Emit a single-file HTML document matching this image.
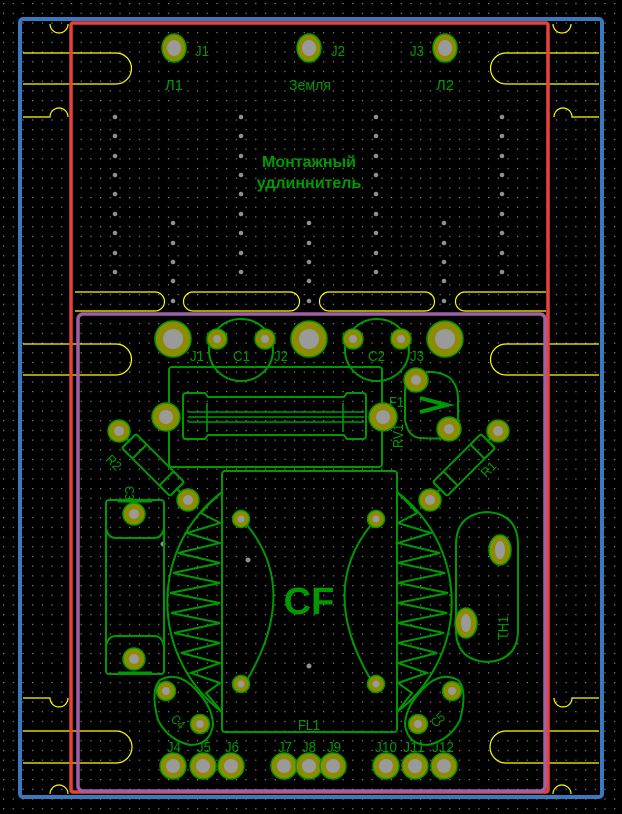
<!DOCTYPE html>
<html><head><meta charset="utf-8"><style>
html,body{margin:0;padding:0;background:#000;width:622px;height:814px;overflow:hidden}
svg{display:block}
text{font-family:"Liberation Sans","DejaVu Sans",sans-serif}
</style></head><body>
<svg width="622" height="814" viewBox="0 0 622 814" xmlns="http://www.w3.org/2000/svg">
<defs>
<pattern id="g" x="3" y="3" width="9.7" height="9.7" patternUnits="userSpaceOnUse">
<rect x="0" y="0" width="1.2" height="1.2" fill="#8a8a8a"/>
</pattern>
<g id="col" fill="#909090">
<circle cx="0" cy="117" r="2.3"/><circle cx="0" cy="136" r="2.3"/><circle cx="0" cy="156" r="2.3"/><circle cx="0" cy="175" r="2.3"/><circle cx="0" cy="194" r="2.3"/><circle cx="0" cy="214" r="2.3"/><circle cx="0" cy="233" r="2.3"/><circle cx="0" cy="253" r="2.3"/><circle cx="0" cy="272" r="2.3"/>
</g>
<g id="col2" fill="#909090">
<circle cx="0" cy="223" r="2.3"/><circle cx="0" cy="243" r="2.3"/><circle cx="0" cy="262" r="2.3"/><circle cx="0" cy="281" r="2.3"/><circle cx="0" cy="301" r="2.3"/>
</g>
</defs>
<rect width="622" height="814" fill="#000"/>
<rect width="622" height="814" fill="url(#g)"/>

<!-- yellow edge cuts -->
<g fill="none" stroke="#ffff00" stroke-width="1.2">
<path d="M23,53 H116 A15.5,15.5 0 0 1 116,84 H23"/>
<path d="M599,53 H506 A15.5,15.5 0 0 0 506,84 H599"/>
<path d="M50,24 A9,9 0 0 0 68,24"/>
<path d="M553,24 A9,9 0 0 0 571,24"/>
<path d="M23,117 H50 A9,9 0 0 1 68,117"/>
<path d="M599,117 H572 A9,9 0 0 0 554,117"/>
<path d="M75,292 H155 A9.5,9.5 0 0 1 155,311 H75"/>
<path d="M193,292 H290 A9.5,9.5 0 0 1 290,311 H193 A9.5,9.5 0 0 1 193,292"/>
<path d="M329,292 H425 A9.5,9.5 0 0 1 425,311 H329 A9.5,9.5 0 0 1 329,292"/>
<path d="M546,292 H465 A9.5,9.5 0 0 0 465,311 H546"/>
<path d="M23,344 H116 A15.5,15.5 0 0 1 116,375 H23"/>
<path d="M599,344 H506 A15.5,15.5 0 0 0 506,375 H599"/>
<path d="M23,698 H50 A9,9 0 0 0 68,698"/>
<path d="M599,698 H572 A9,9 0 0 1 554,698"/>
<path d="M23,731 H116 A15.5,15.5 0 0 1 116,763 H23"/>
<path d="M599,731 H506 A15.5,15.5 0 0 0 506,763 H599"/>
<path d="M50,794 A9,9 0 0 1 68,794"/>
<path d="M553,794 A9,9 0 0 1 571,794"/>
</g>

<!-- outlines -->
<rect x="20" y="19" width="582" height="778" rx="3" fill="none" stroke="#3c78c0" stroke-width="4"/>
<rect x="71" y="23" width="477" height="769" rx="2" fill="none" stroke="#e8403a" stroke-width="3.5"/>
<rect x="78" y="314" width="467" height="477" rx="5" fill="none" stroke="#a060a8" stroke-width="3.5"/>

<!-- grey vias -->
<use href="#col" x="115"/><use href="#col" x="241"/><use href="#col" x="376"/><use href="#col" x="502"/>
<use href="#col2" x="173"/><use href="#col2" x="309"/><use href="#col2" x="444"/>
<g fill="#909090">
<circle cx="248" cy="560" r="2.5"/><circle cx="309" cy="666" r="2.5"/><circle cx="163" cy="544" r="2.5"/>
</g>

<!-- green silkscreen -->
<g fill="none" stroke="#009a00" stroke-width="2">
<ellipse cx="241" cy="350" rx="32" ry="31"/>
<ellipse cx="377" cy="350" rx="32" ry="31"/>
<rect x="169" y="367" width="213" height="100" rx="3"/>
<path d="M186,393 H205 L208,397 H344 L347,393 H363 Q366,393 366,397 V435 Q366,439 363,439 H347 L344,435 H208 L205,439 H186 Q183,439 183,435 V397 Q183,393 186,393 Z"/>
<path d="M188,412 H364 M188,417 H364 M188,422 H364 M207,403 V432 M343,403 V432" stroke-width="1.6"/>
<path d="M426,372 Q440,371 450,378 Q458,386 458,398 V418 Q458,430 448,438 Q435,439 420,438 Q408,437 405,420 V392 Q405,380 412,376"/>
<path d="M420,398 L447,405 L420,412" stroke-width="4"/>
<g transform="translate(153,465) rotate(45)">
<rect x="-34" y="-10" width="68" height="20" rx="2"/>
<rect x="-34" y="-10" width="15" height="20" rx="2"/>
<rect x="19" y="-10" width="15" height="20" rx="2"/>
</g>
<line x1="119" y1="431" x2="130" y2="442"/><line x1="176" y1="488" x2="188" y2="500"/>
<g transform="translate(464,465) rotate(-45)">
<rect x="-34" y="-10" width="68" height="20" rx="2"/>
<rect x="-34" y="-10" width="15" height="20" rx="2"/>
<rect x="19" y="-10" width="15" height="20" rx="2"/>
</g>
<line x1="498" y1="431" x2="487" y2="442"/><line x1="441" y1="488" x2="430" y2="500"/>
<rect x="106" y="500" width="58" height="174" rx="3"/>
<path d="M106,528 Q108,538 116,538 H154 Q162,538 164,528"/>
<path d="M106,646 Q108,636 116,636 H154 Q162,636 164,646"/>
<path d="M118,501 H152 M118,673 H152" stroke-width="3"/>
<rect x="222" y="471" width="175" height="261" rx="3"/>
<polyline points="222,492 210,503 201,513 220,523 187,533 220,543 178,553 220,563 173,573 220,583 170,593 220,603 171,613 220,623 174,633 220,643 181,653 220,663 191,673 220,683 206,693 222,712"/>
<path d="M222,492 A138,138 0 0 0 222,712"/>
<polyline points="397,492 408,503 417,513 398,523 431,533 398,543 440,553 398,563 445,573 398,583 448,593 398,603 447,613 398,623 444,633 398,643 437,653 398,663 427,673 398,683 412,693 397,712"/>
<path d="M397,492 A138,138 0 0 1 397,712"/>
<path d="M247,525 Q300,590 247,680"/>
<path d="M371,525 Q318,590 371,680"/>
<path d="M456,545 Q456,514 487,512 Q518,514 518,545 V630 Q518,660 487,662 Q456,660 456,630 Z"/>
<path d="M160,680 Q175,672 190,684 Q213,705 213,725 Q210,745 190,745 Q168,740 158,720 Q150,690 160,680 Z"/>
<path d="M458,680 Q443,672 428,684 Q405,705 405,725 Q408,745 428,745 Q450,740 460,720 Q468,690 458,680 Z"/>
</g>

<!-- pads -->
<g>
<g fill="#8c8c00" stroke="#009a00" stroke-width="1.5">
<ellipse cx="174" cy="48" rx="12" ry="14"/><ellipse cx="309" cy="48" rx="12" ry="14"/><ellipse cx="445" cy="48" rx="12" ry="14"/>
<circle cx="173" cy="339" r="18"/><circle cx="309" cy="339" r="18"/><circle cx="445" cy="339" r="18"/>
<circle cx="217" cy="339" r="10"/><circle cx="265" cy="339" r="10"/><circle cx="353" cy="339" r="10"/><circle cx="401" cy="339" r="10"/>
<circle cx="416" cy="380" r="12"/><circle cx="449" cy="429" r="12"/>
<circle cx="166" cy="417" r="14"/><circle cx="383" cy="417" r="14"/>
<circle cx="119" cy="431" r="11"/><circle cx="188" cy="500" r="11"/>
<circle cx="498" cy="431" r="11"/><circle cx="430" cy="500" r="11"/>
<circle cx="134" cy="514" r="11"/><circle cx="134" cy="659" r="11"/>
<circle cx="241" cy="519" r="8.5"/><circle cx="376" cy="519" r="8.5"/><circle cx="241" cy="684" r="8.5"/><circle cx="376" cy="684" r="8.5"/>
<ellipse cx="500" cy="550" rx="11" ry="15"/><ellipse cx="466" cy="623" rx="11" ry="15"/>
<circle cx="166" cy="691" r="9.5"/><circle cx="200" cy="724" r="9.5"/>
<circle cx="452" cy="691" r="9.5"/><circle cx="418" cy="724" r="9.5"/>
<circle cx="173" cy="766" r="13"/><circle cx="203" cy="766" r="13"/><circle cx="231" cy="766" r="13"/>
<circle cx="284" cy="766" r="13"/><circle cx="309" cy="766" r="13"/><circle cx="333" cy="766" r="13"/>
<circle cx="386" cy="766" r="13"/><circle cx="415" cy="766" r="13"/><circle cx="444" cy="766" r="13"/>
</g>
<g fill="#9a9a9a">
<ellipse cx="174" cy="48" rx="7" ry="8"/><ellipse cx="309" cy="48" rx="7" ry="8"/><ellipse cx="445" cy="48" rx="7" ry="8"/>
<circle cx="173" cy="339" r="10"/><circle cx="309" cy="339" r="10"/><circle cx="445" cy="339" r="10"/>
<circle cx="217" cy="339" r="4"/><circle cx="265" cy="339" r="4"/><circle cx="353" cy="339" r="4"/><circle cx="401" cy="339" r="4"/>
<circle cx="416" cy="380" r="5"/><circle cx="449" cy="429" r="5"/>
<circle cx="166" cy="417" r="7"/><circle cx="383" cy="417" r="7"/>
<circle cx="119" cy="431" r="5"/><circle cx="188" cy="500" r="5"/>
<circle cx="498" cy="431" r="5"/><circle cx="430" cy="500" r="5"/>
<circle cx="134" cy="514" r="5"/><circle cx="134" cy="659" r="5"/>
<circle cx="241" cy="519" r="3.5"/><circle cx="376" cy="519" r="3.5"/><circle cx="241" cy="684" r="3.5"/><circle cx="376" cy="684" r="3.5"/>
<ellipse cx="500" cy="550" rx="5" ry="9"/><ellipse cx="466" cy="623" rx="5" ry="9"/>
<circle cx="166" cy="691" r="4"/><circle cx="200" cy="724" r="4"/>
<circle cx="452" cy="691" r="4"/><circle cx="418" cy="724" r="4"/>
<circle cx="173" cy="766" r="7"/><circle cx="203" cy="766" r="7"/><circle cx="231" cy="766" r="7"/>
<circle cx="284" cy="766" r="7"/><circle cx="309" cy="766" r="7"/><circle cx="333" cy="766" r="7"/>
<circle cx="386" cy="766" r="7"/><circle cx="415" cy="766" r="7"/><circle cx="444" cy="766" r="7"/>
</g>
</g>

<!-- labels -->
<g fill="#009a00" font-size="15">
<text x="195" y="56" textLength="14" lengthAdjust="spacingAndGlyphs">J1</text>
<text x="331" y="56" textLength="14" lengthAdjust="spacingAndGlyphs">J2</text>
<text x="410" y="56" textLength="14" lengthAdjust="spacingAndGlyphs">J3</text>
<text x="165" y="90" textLength="18" lengthAdjust="spacingAndGlyphs">Л1</text>
<text x="289" y="90" textLength="42" lengthAdjust="spacingAndGlyphs">Земля</text>
<text x="436" y="90" textLength="18" lengthAdjust="spacingAndGlyphs">Л2</text>
<text x="190" y="361" textLength="14" lengthAdjust="spacingAndGlyphs">J1</text>
<text x="233" y="361" textLength="17" lengthAdjust="spacingAndGlyphs">C1</text>
<text x="274" y="361" textLength="14" lengthAdjust="spacingAndGlyphs">J2</text>
<text x="368" y="361" textLength="17" lengthAdjust="spacingAndGlyphs">C2</text>
<text x="410" y="361" textLength="14" lengthAdjust="spacingAndGlyphs">J3</text>
<text x="389" y="407" textLength="15" lengthAdjust="spacingAndGlyphs">F1</text>
<text x="0" y="0" transform="translate(403,448) rotate(-90)" textLength="24" lengthAdjust="spacingAndGlyphs">RV1</text>
<text x="0" y="0" transform="translate(105,460) rotate(45)" textLength="16" lengthAdjust="spacingAndGlyphs" font-size="13">R2</text>
<text x="0" y="0" transform="translate(125,486) rotate(90)" textLength="14" lengthAdjust="spacingAndGlyphs" font-size="13">C3</text>
<text x="0" y="0" transform="translate(486,478) rotate(-45)" textLength="16" lengthAdjust="spacingAndGlyphs" font-size="13">R1</text>
<text x="0" y="0" transform="translate(508,640) rotate(-90)" textLength="24" lengthAdjust="spacingAndGlyphs">TH1</text>
<text x="0" y="0" transform="translate(170,720) rotate(45)" textLength="14" lengthAdjust="spacingAndGlyphs" font-size="13">C4</text>
<text x="0" y="0" transform="translate(436,728) rotate(-45)" textLength="14" lengthAdjust="spacingAndGlyphs" font-size="13">C5</text>
<text x="298" y="730" textLength="22" lengthAdjust="spacingAndGlyphs">FL1</text>
<text x="167" y="752" textLength="14" lengthAdjust="spacingAndGlyphs">J4</text>
<text x="197" y="752" textLength="14" lengthAdjust="spacingAndGlyphs">J5</text>
<text x="225" y="752" textLength="14" lengthAdjust="spacingAndGlyphs">J6</text>
<text x="278" y="752" textLength="14" lengthAdjust="spacingAndGlyphs">J7</text>
<text x="302" y="752" textLength="14" lengthAdjust="spacingAndGlyphs">J8</text>
<text x="327" y="752" textLength="14" lengthAdjust="spacingAndGlyphs">J9</text>
<text x="375" y="752" textLength="22" lengthAdjust="spacingAndGlyphs">J10</text>
<text x="403" y="752" textLength="22" lengthAdjust="spacingAndGlyphs">J11</text>
<text x="432" y="752" textLength="22" lengthAdjust="spacingAndGlyphs">J12</text>
</g>
<g fill="#009a00" font-weight="bold" font-size="16" text-anchor="middle">
<text x="309" y="167">Монтажный</text>
<text x="309" y="188">удлиннитель</text>
</g>
<text x="309" y="614" fill="#009a00" font-size="38" font-weight="bold" text-anchor="middle">CF</text>
</svg>
</body></html>
